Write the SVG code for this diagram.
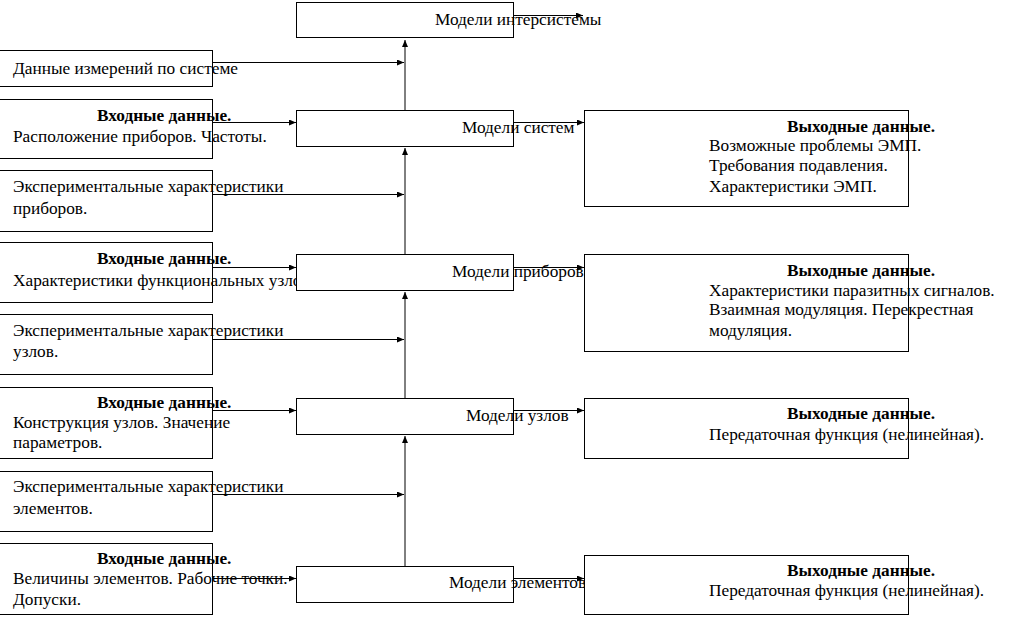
<svg xmlns="http://www.w3.org/2000/svg" width="1026" height="618" viewBox="0 0 1026 618">
<style>
rect{fill:#fff;stroke:#000;stroke-width:1}
text{font-family:"Liberation Serif","Times New Roman",serif;font-size:17.3px;fill:#000}
.b{font-weight:bold}
#connectors path{fill:none;stroke:#000;stroke-width:1;marker-end:url(#ah)}
</style>
<defs>
<marker id="ah" markerUnits="userSpaceOnUse" markerWidth="8" markerHeight="7" refX="7" refY="3" orient="auto">
<path d="M0,0 L7,3 L0,6 z" fill="#000"/>
</marker>
</defs>
<rect x="0" y="0" width="1026" height="618" style="stroke:none"/>
<g id="l1"><rect x="-1" y="50.5" width="213.5" height="36"/>
<text x="13" y="74">Данные измерений по системе</text></g>
<g id="l2"><rect x="-1" y="99.5" width="213.5" height="59"/>
<text class="b" x="97" y="121">Входные данные.</text>
<text x="13" y="142">Расположение приборов. Частоты.</text></g>
<g id="l3"><rect x="-1" y="170.5" width="213.5" height="61"/>
<text x="13" y="192">Экспериментальные характеристики</text>
<text x="13" y="214">приборов.</text></g>
<g id="l4"><rect x="-1" y="242.5" width="213.5" height="60"/>
<text class="b" x="97" y="264">Входные данные.</text>
<text x="13" y="286">Характеристики функциональных узлов</text></g>
<g id="l5"><rect x="-1" y="314.5" width="213.5" height="60"/>
<text x="13" y="336">Экспериментальные характеристики</text>
<text x="13" y="357">узлов.</text></g>
<g id="l6"><rect x="-1" y="387.5" width="213.5" height="71"/>
<text class="b" x="97" y="408">Входные данные.</text>
<text x="13" y="428">Конструкция узлов. Значение</text>
<text x="13" y="448">параметров.</text></g>
<g id="l7"><rect x="-1" y="471.5" width="213.5" height="60"/>
<text x="13" y="492">Экспериментальные характеристики</text>
<text x="13" y="514">элементов.</text></g>
<g id="l8"><rect x="-1" y="543.5" width="213.5" height="71"/>
<text class="b" x="97" y="564">Входные данные.</text>
<text x="13" y="584">Величины элементов. Рабочие точки.</text>
<text x="13" y="605">Допуски.</text></g>
<g id="n-intersys"><rect x="296.5" y="2.5" width="217" height="35"/>
<text x="435" y="25">Модели интерсистемы</text></g>
<g id="n-sys"><rect x="296.5" y="110.5" width="217" height="36"/>
<text x="462" y="133">Модели систем</text></g>
<g id="n-dev"><rect x="296.5" y="254.5" width="217" height="36"/>
<text x="452" y="277">Модели приборов</text></g>
<g id="n-node"><rect x="296.5" y="398.5" width="217" height="36"/>
<text x="466" y="421">Модели узлов</text></g>
<g id="n-elem"><rect x="296.5" y="566.5" width="217" height="36"/>
<text x="449" y="588">Модели элементов</text></g>
<g id="r1"><rect x="584.5" y="110.5" width="324" height="96"/>
<text class="b" x="787" y="132">Выходные данные.</text>
<text x="709" y="151">Возможные проблемы ЭМП.</text>
<text x="709" y="171">Требования подавления.</text>
<text x="709" y="192">Характеристики ЭМП.</text></g>
<g id="r2"><rect x="584.5" y="254.5" width="324" height="97"/>
<text class="b" x="787" y="276">Выходные данные.</text>
<text x="709" y="296">Характеристики паразитных сигналов.</text>
<text x="709" y="315">Взаимная модуляция. Перекрестная</text>
<text x="709" y="336">модуляция.</text></g>
<g id="r3"><rect x="584.5" y="398.5" width="324" height="60"/>
<text class="b" x="787" y="419">Выходные данные.</text>
<text x="709" y="440">Передаточная функция (нелинейная).</text></g>
<g id="r4"><rect x="584.5" y="555.5" width="324" height="59"/>
<text class="b" x="787" y="576">Выходные данные.</text>
<text x="709" y="596">Передаточная функция (нелинейная).</text></g>
<g id="connectors">
<path d="M513,15.5 H583"/>
<path d="M405,110 V40"/>
<path d="M405,254 V148"/>
<path d="M405,398 V292"/>
<path d="M405,566 V436"/>
<path d="M212,62.5 H404"/>
<path d="M212,194.5 H404"/>
<path d="M212,339.5 H404"/>
<path d="M212,494.5 H404"/>
<path d="M212,122.5 H296"/>
<path d="M212,267.5 H296"/>
<path d="M212,410.5 H296"/>
<path d="M212,578.5 H296"/>
<path d="M513,122.5 H584"/>
<path d="M513,267.5 H584"/>
<path d="M513,410.5 H584"/>
<path d="M513,578.5 H584"/>
</g>
</svg>
